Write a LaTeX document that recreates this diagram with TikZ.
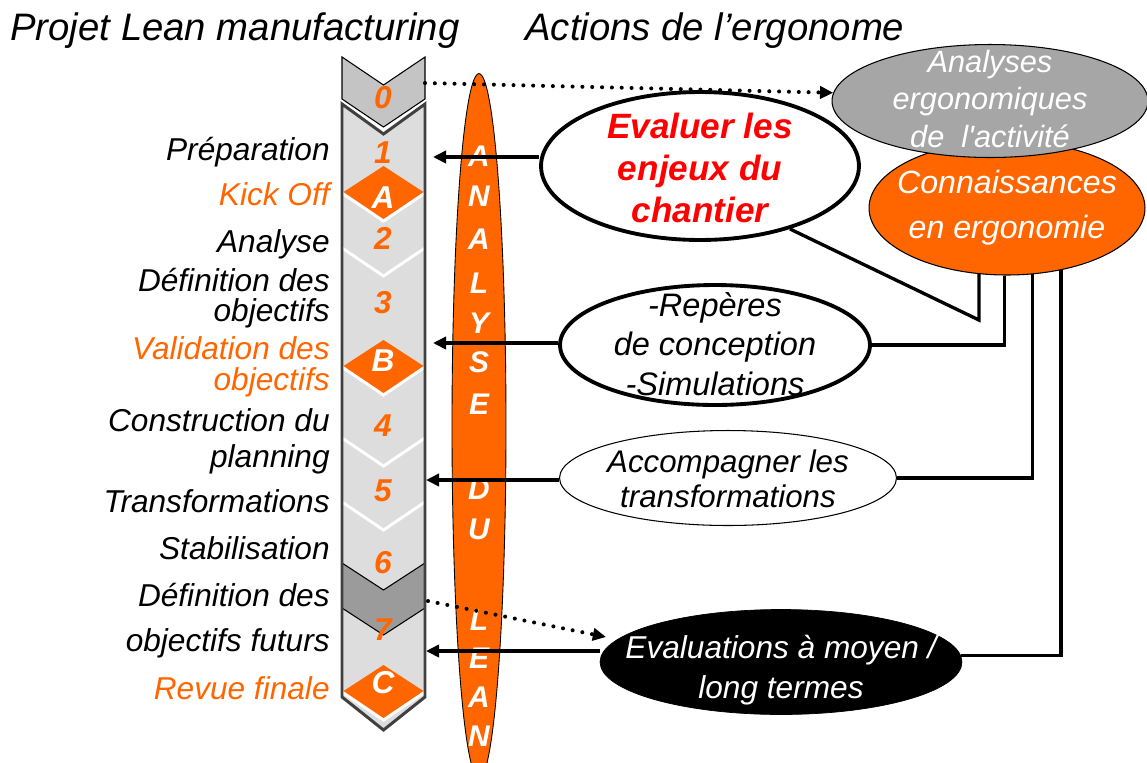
\documentclass[tikz,border=0pt]{standalone}
\usepackage{fontspec}
\setmainfont{Liberation Sans}
\usetikzlibrary{shapes.geometric,arrows.meta}

\definecolor{leanorange}{HTML}{FF6600}
\definecolor{phasegrey}{HTML}{DDDDDD}
\definecolor{startgrey}{HTML}{C4C4C4}
\definecolor{futuregrey}{HTML}{9B9B9B}
\definecolor{railgrey}{HTML}{404040}
\definecolor{bubblegrey}{HTML}{A6A6A6}

\newcommand{\setfs}[2]{\fontsize{#1}{#2}\selectfont}

\tikzset{
    >={Triangle[length=7.5pt,width=7pt]},
    heading/.style={anchor=base west, inner sep=0pt, font=\setfs{21.8}{24}\itshape},
    phase/.style={anchor=base east, align=right, inner sep=0pt, font=\setfs{18}{18}\itshape},
    milestone/.style={phase, text=leanorange},
    num/.style={inner sep=0pt, text height=12.9pt, text depth=0pt, font=\setfs{18}{18}\bfseries\itshape, text=leanorange},
    gate/.style={num, text=white},
    leanletter/.style={inner sep=0pt, text height=12.2pt, text depth=0pt, font=\setfs{17}{17}\bfseries\itshape, text=white},
    bubble/.style={ellipse, draw, inner sep=0pt},
    bubbletext/.style={align=center, inner sep=0pt},
    feed/.style={->, line width=1.9pt},
    dotfeed/.style={->, line width=2.3pt, line cap=round, dash pattern=on 0pt off 5.6pt},
    tie/.style={line width=1.9pt},
    divider/.style={white, line width=1.7pt},
}

\begin{document}
\begin{tikzpicture}[x=0.02cm, y=-0.02cm]
    \useasboundingbox (0,0) rectangle (1147,762);

    \node[heading] (titleLean) at (10,40) {Projet Lean manufacturing};
    \node[heading] (titleErgo) at (525,40) {Actions de l’ergonome};

    % phase column
    \fill[phasegrey] (342,104) -- (383.5,134) -- (425,104) -- (425,697) -- (383.5,730) -- (342,697) -- cycle;
    \draw[fill=startgrey, line width=0.6pt] (342,57) -- (383.5,85) -- (425,57) -- (425,99) -- (383.5,127) -- (342,99) -- cycle;
    \draw[fill=futuregrey, line width=0.6pt] (342,563) -- (383.5,590) -- (425,563) -- (425,608) -- (383.5,635) -- (342,608) -- cycle;
    \foreach \y in {193,367,692}
        \fill[leanorange] (342,\y) -- (383.5,\y-27) -- (425,\y) -- (383.5,\y+28) -- cycle;
    \foreach \y in {193,248,367,438,502,692}
        \draw[divider] (342,\y) -- (383.5,\y+28) -- (425,\y);
    \draw[railgrey, line width=1.7pt] (342,104) -- (383.5,134) -- (425,104) -- (425,697) -- (383.5,730) -- (342,697) -- cycle;

    \foreach \n/\y in {0/97,1/152,2/238,3/302,4/425,5/490,6/562,7/629}
        \node[num] (step\n) at (383,\y) {\n};
    \foreach \g/\y in {A/197,B/360,C/682}
        \node[gate] (gate\g) at (383,\y) {\g};

    % phase labels
    \node[phase] (prep) at (330,160) {Préparation};
    \node[milestone] (kickoff) at (330,205) {Kick Off};
    \node[phase] (analyse) at (330,252) {Analyse};
    \node[phase, font=\setfs{18}{17}\itshape] (defobj) at (330,321) {Définition des\\objectifs};
    \node[milestone, font=\setfs{18}{17.6}\itshape] (valobj) at (330,390) {Validation des\\objectifs};
    \node[phase, font=\setfs{18}{20}\itshape] (planning) at (330,467) {Construction du\\planning};
    \node[phase] (transfo) at (330,512) {Transformations};
    \node[phase] (stabil) at (330,559) {Stabilisation};
    \node[phase, font=\setfs{18}{25.6}\itshape] (futurs) at (330,651) {Définition des\\objectifs futurs};
    \node[milestone] (revue) at (330,699) {Revue finale};

    % analyse du lean
    \node[ellipse, draw, line width=0.5pt, fill=leanorange, minimum width=1.08cm, minimum height=14.1cm] (lean) at (479,426) {};
    \foreach \l/\y [count=\i] in {A/156,N/196,A/239,L/283,Y/323,S/362,E/404,D/489,U/529,L/620,E/658,A/697,N/736}
        \node[leanletter] (leanL\i) at (479,\y) {\l};

    % actions
    \node[bubble, fill=leanorange, line width=0.6pt, minimum width=5.52cm, minimum height=2.68cm] (conn) at (1007,208) {};
    \node[bubbletext, text=white, font=\setfs{18.3}{25.6}\itshape] (connText) at (1007,208) {Connaissances\\en ergonomie};
    \node[bubble, fill=bubblegrey, line width=0.6pt, minimum width=6.32cm, minimum height=2.26cm] (analyses) at (990,101) {};
    \node[bubbletext, text=white, font=\setfs{17.5}{21.6}\itshape] (analysesText) at (990,99) {Analyses\\ergonomiques\\de\ \ l\textquotesingle activité};

    \node[bubble, fill=white, line width=2.2pt, minimum width=6.36cm, minimum height=2.96cm] (evaluer) at (700,166) {};
    \node[bubbletext, text=red, font=\setfs{20}{24}\bfseries\itshape] (evaluerText) at (700,168) {Evaluer les\\enjeux du\\chantier};
    \node[bubble, fill=white, line width=2.2pt, minimum width=6.2cm, minimum height=2.4cm] (reperes) at (715,345) {};
    \node[bubbletext, font=\setfs{18.5}{22.5}\itshape] (reperesText) at (715,344) {-Repères\\de conception\\-Simulations};
    \node[bubble, fill=white, line width=0.6pt, minimum width=6.74cm, minimum height=1.9cm] (accomp) at (728,478) {};
    \node[bubbletext, font=\setfs{17.8}{20}\itshape] (accompText) at (728,479) {Accompagner les\\transformations};
    \node[bubble, fill=black, minimum width=7.24cm, minimum height=2.1cm] (evalmt) at (781,662) {};
    \node[bubbletext, text=white, font=\setfs{18}{22.8}\itshape] (evalmtText) at (781,670) {Evaluations à moyen /\\long termes};

    % links
    \coordinate (kink) at (980,320);
    \draw[tie] (conn.247) -- (conn.247 |- kink) -- (evaluer.-35);
    \draw[tie] (conn.268) |- (reperes.east);
    \draw[tie] (conn.291) |- (accomp.east);
    \draw[tie] (conn.311) |- (evalmt.2);

    \coordinate (in1) at (433,157);
    \coordinate (in3) at (433,343);
    \coordinate (in5) at (426,480);
    \coordinate (in7) at (426,651);
    \draw[feed] (evaluer.west |- in1) -- (in1);
    \draw[feed] (reperes.west |- in3) -- (in3);
    \draw[feed] (accomp.west |- in5) -- (in5);
    \draw[feed] (evalmt.west |- in7) -- (in7);

    \coordinate (out0) at (425,83);
    \coordinate (out7) at (428,601);
    \coordinate (tip7) at (606,637);
    \draw[dotfeed] (out0) -- (analyses.177);
    \draw[dotfeed] (out7) -- (tip7);
\end{tikzpicture}
\end{document}
